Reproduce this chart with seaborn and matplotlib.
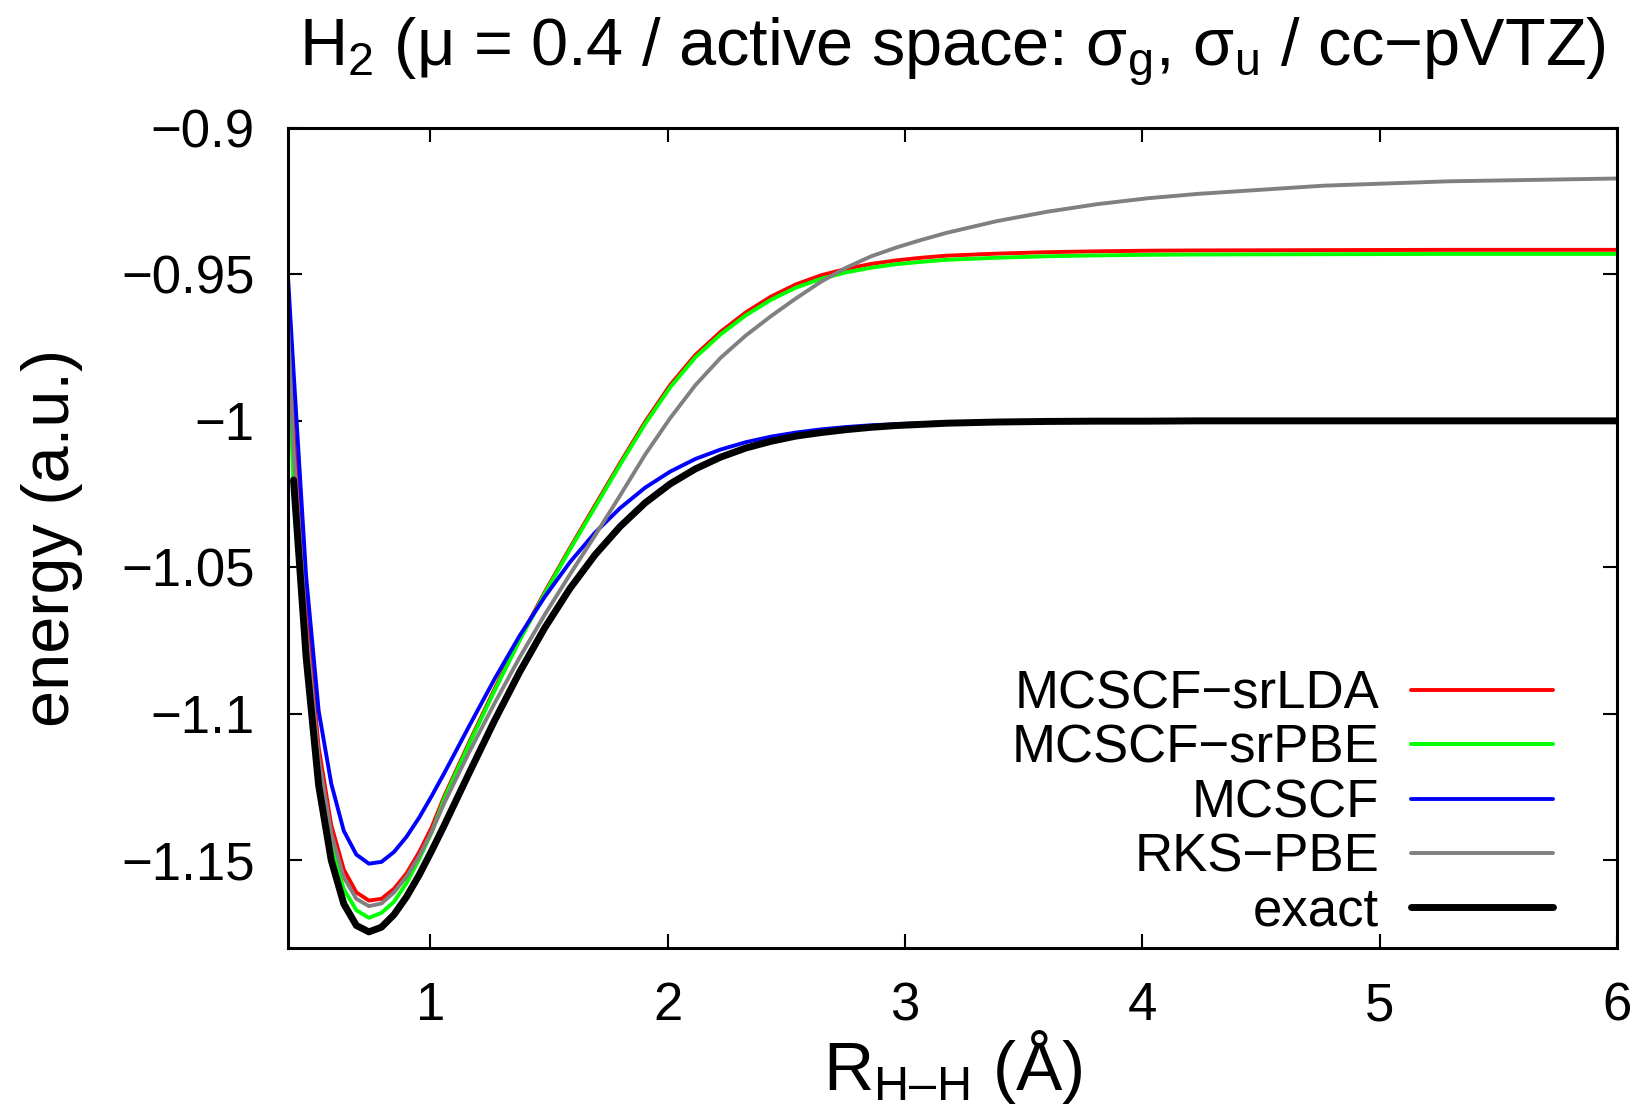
import numpy as np
import matplotlib
matplotlib.use("Agg")
import matplotlib.pyplot as plt
from matplotlib.ticker import FuncFormatter
import seaborn as sns

# H-H distance grid (bohr); converted to angstrom for plotting
r_bohr = [0.7, 0.8, 0.9, 1.0, 1.1, 1.2, 1.3, 1.4, 1.5, 1.6, 1.7, 1.8, 1.9, 2.0,
          2.2, 2.4, 2.6, 2.8, 3.0, 3.2, 3.4, 3.6, 3.8, 4.0, 4.2, 4.4, 4.6, 4.8,
          5.0, 5.2, 5.4, 5.6, 5.8, 6.0, 6.4, 6.8, 7.2, 7.6, 8.0, 9.0, 10.0, 11.4]

# total energies (hartree)
e_srlda = [-0.9004, -1.0032, -1.0656, -1.1115, -1.1380, -1.1532, -1.1610, -1.1638,
           -1.1632, -1.1598, -1.1545, -1.1473, -1.1388, -1.1282, -1.1096, -1.0916,
           -1.0745, -1.0585, -1.0435, -1.0289, -1.0144, -1.0003, -0.9877, -0.9775,
           -0.9696, -0.9630, -0.9576, -0.9534, -0.9503, -0.9481, -0.9464, -0.9452,
           -0.9443, -0.9436, -0.9429, -0.9424, -0.9421, -0.9419, -0.9418, -0.9417,
           -0.9416, -0.9416]
e_srpbe = [-0.9104, -1.0222, -1.0786, -1.1205, -1.1452, -1.1599, -1.1671, -1.1697,
           -1.1680, -1.1642, -1.1578, -1.1497, -1.1405, -1.1290, -1.1102, -1.0922,
           -1.0750, -1.0590, -1.0440, -1.0295, -1.0150, -1.0010, -0.9885, -0.9783,
           -0.9705, -0.9640, -0.9587, -0.9545, -0.9515, -0.9493, -0.9477, -0.9465,
           -0.9457, -0.9450, -0.9443, -0.9438, -0.9435, -0.9433, -0.9432, -0.9431,
           -0.9430, -0.9430]
e_mcscf = [-0.9100, -0.9830, -1.0530, -1.0990, -1.1238, -1.1400, -1.1481, -1.1512,
           -1.1506, -1.1472, -1.1420, -1.1355, -1.1281, -1.1203, -1.1041, -1.0882,
           -1.0734, -1.0601, -1.0483, -1.0382, -1.0298, -1.0228, -1.0173, -1.0130,
           -1.0098, -1.0073, -1.0054, -1.0040, -1.0029, -1.0021, -1.0015, -1.0011,
           -1.0008, -1.0005, -1.0002, -1.0001, -1.0000, -1.0000, -1.0000, -1.0000,
           -1.0000, -1.0000]
e_rks_pbe = [-0.9110, -1.0102, -1.0706, -1.1150, -1.1408, -1.1559, -1.1632, -1.1657,
             -1.1648, -1.1610, -1.1556, -1.1487, -1.1403, -1.1305, -1.1130, -1.0965,
             -1.0808, -1.0662, -1.0525, -1.0392, -1.0255, -1.0115, -0.9990, -0.9878,
             -0.9785, -0.9709, -0.9643, -0.9582, -0.9525, -0.9477, -0.9438, -0.9408,
             -0.9382, -0.9358, -0.9318, -0.9286, -0.9260, -0.9240, -0.9225, -0.9197,
             -0.9182, -0.9172]
# exact curve starts at 0.8 bohr
e_exact = [-1.0202, -1.0806, -1.1245, -1.1500, -1.1649, -1.1723, -1.1745,
           -1.1729, -1.1686, -1.1625, -1.1551, -1.1468, -1.1381, -1.1201, -1.1024,
           -1.0858, -1.0707, -1.0573, -1.0458, -1.0361, -1.0280, -1.0215, -1.0164,
           -1.0124, -1.0093, -1.0070, -1.0052, -1.0040, -1.0030, -1.0022, -1.0016,
           -1.0012, -1.0008, -1.0004, -1.0002, -1.0001, -1.0001, -1.0000, -1.0000,
           -1.0000, -1.0000]

labels = ["MCSCF\u2212srLDA", "MCSCF\u2212srPBE", "MCSCF", "RKS\u2212PBE", "exact"]
colors = ["#ff0000", "#00ff00", "#0000ff", "#808080", "#000000"]
widths = [2.8, 2.8, 2.8, 2.8, 5.0]

BOHR_TO_ANG = 0.529177
r_ang = np.array(r_bohr) * BOHR_TO_ANG

sns.set_theme(style="ticks")
plt.rcParams.update({
    "font.family": ["Liberation Sans", "DejaVu Sans"],
    "mathtext.fontset": "custom",
    "mathtext.rm": "Liberation Sans",
    "mathtext.it": "Liberation Sans:italic",
    "mathtext.default": "regular",
    "axes.unicode_minus": True,
    "text.color": "black",
    "axes.labelcolor": "black",
    "xtick.color": "black",
    "ytick.color": "black",
})

fig = plt.figure(figsize=(16.41, 11.15), dpi=100)
W, H = 1641, 1115
ax = fig.add_axes([288 / W, 1 - 948 / H, (1617 - 288) / W, (948 - 128) / H])

curves = [e_srlda, e_srpbe, e_mcscf, e_rks_pbe, e_exact]
for lab, e, col, lw in zip(labels, curves, colors, widths):
    x = r_ang if len(e) == len(r_ang) else r_ang[len(r_ang) - len(e):]
    sns.lineplot(x=x, y=np.array(e), color=col, linewidth=lw, label=lab,
                 estimator=None, sort=False, ax=ax)

ax.set_xlim(0.4, 6)
ax.set_ylim(-1.18, -0.9)
ax.set_xticks([1, 2, 3, 4, 5, 6])
ax.set_yticks([-1.15, -1.1, -1.05, -1.0, -0.95, -0.9])
fmt = FuncFormatter(lambda v, p: f"{v:g}".replace("-", "\u2212"))
ax.xaxis.set_major_formatter(fmt)
ax.yaxis.set_major_formatter(fmt)
ax.tick_params(direction="in", length=10, width=1.5, top=True, right=True,
               labelsize=38, pad=24, colors="black")
for sp in ax.spines.values():
    sp.set_visible(True)
    sp.set_color("black")
    sp.set_linewidth(2.2)
ax.grid(False)

ax.set_xlabel("R$_{H\u2013H}$ (Å)", fontsize=50)
ax.xaxis.set_label_coords(0.5, -(1090 - 948) / 820)
ax.xaxis.label.set_va("baseline")
ax.set_ylabel("energy (a.u.)", fontsize=48)
ax.yaxis.set_label_coords((52 - 288) / 1329, 0.5)
ax.yaxis.label.set_va("center")

fig.text(952.5 / W, 1 - 65 / H,
         "H$_2$ (\u03bc = 0.4 / active space: \u03c3$_g$, \u03c3$_u$ / cc\u2212pVTZ)",
         ha="center", va="baseline", fontsize=48)

handles, labs = ax.get_legend_handles_labels()
ax.legend(handles, labs, loc="lower right", bbox_to_anchor=(0.952, 0.014),
          frameon=False, markerfirst=False, fontsize=38, handlelength=2.7,
          handletextpad=0.6, labelspacing=0.08, borderpad=0, borderaxespad=0)

fig.savefig("out.png", dpi=100)
